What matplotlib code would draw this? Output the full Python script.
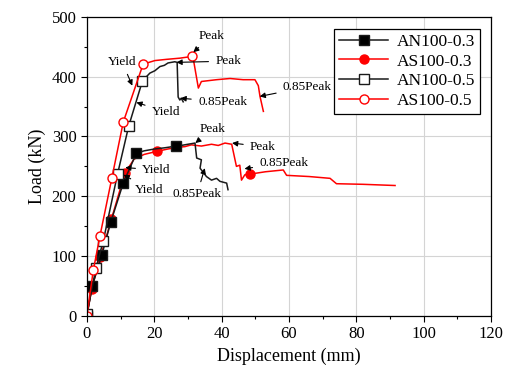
#!/usr/bin/env python3
"""Load-displacement curves for AN/AS100 specimens, saved as out.png."""

import matplotlib

matplotlib.use("Agg")
import matplotlib.pyplot as plt
from matplotlib.ticker import MultipleLocator

plt.rcParams["font.family"] = ["Liberation Serif", "DejaVu Serif"]

# AN100-0.3 (black, filled squares)
an03_x = [0, 1.6, 4.4, 7.1, 10.8, 14.7, 17, 20, 23, 26.6, 28, 30, 32.1,
          32.6, 34.0, 33.6, 35.5, 37.0, 38.5, 39.5, 41.5, 41.9]
an03_y = [0, 50, 101, 157, 222, 272, 276, 279, 281, 284, 285, 287, 289,
          264, 261, 247, 233, 227, 230, 225, 222, 211]
an03_marks = [0, 1, 2, 3, 4, 5, 9]

# AS100-0.3 (red, filled circles)
as03_x = [0, 1.4, 4.0, 7.3, 11.3, 14, 17, 20.7, 24, 27, 29.1, 31, 34, 37,
          39, 41, 43, 44.4, 45.4, 45.9, 46.9, 48.4, 53, 58.3, 59.3, 66,
          72.2, 74.1, 82, 91.5]
as03_y = [0, 45, 98, 162, 239, 262, 270, 275, 279, 282, 283, 286, 284, 287,
          285, 289, 287, 250, 252, 227, 236, 237, 241, 244, 235, 233,
          230, 221, 220, 218]
as03_marks = [0, 1, 2, 3, 4, 7, 21]

# AN100-0.5 (black, open squares)
an05_x = [0, 2.7, 4.9, 9.1, 12.4, 16.5, 18.7, 20.2, 21.7, 23.0, 24.1,
          26.1, 26.8, 27.1, 27.6, 28.0, 28.6]
an05_y = [3, 80, 126, 237, 317, 393, 406, 410, 417, 419, 423,
          425, 424, 366, 361, 364, 358]
an05_marks = [0, 1, 2, 3, 4, 5]

# AS100-0.5 (red, open circles)
as05_x = [0, 1.9, 3.9, 7.4, 10.8, 16.7, 20.2, 23.6, 27.6, 31.3, 31.5,
          33.1, 34.0, 38.5, 42.5, 46.4, 49.9, 50.9, 51.4, 52.4]
as05_y = [0, 76, 134, 230, 324, 421, 427, 429, 431, 434, 433,
          381, 392, 395, 397, 395, 395, 385, 367, 342]
as05_marks = [0, 1, 2, 3, 4, 5, 9]

# annotation labels: (text, text x, text y, arrow tip x, arrow tip y)
notes = [
    ("Peak", 37.1, 468, 31.6, 441),
    ("Peak", 42.0, 426, 26.6, 424),
    ("0.85Peak", 40.3, 358, 27.8, 364),
    ("Yield", 10.4, 425, 13.5, 385),
    ("Yield", 23.5, 341, 14.7, 357),
    ("0.85Peak", 65.5, 383, 51.3, 367),
    ("Peak", 37.4, 313, 32.2, 289),
    ("Peak", 52.3, 283, 43.1, 289),
    ("0.85Peak", 58.5, 256, 46.8, 246),
    ("0.85Peak", 32.7, 203, 35.0, 247),
    ("Yield", 20.7, 244, 11.4, 248),
    ("Yield", 18.6, 211, 10.9, 236),
]


def main():
    fig = plt.figure(figsize=(5.11, 3.76), dpi=100)
    ax = fig.add_axes([0.170, 0.160, 0.791, 0.795])

    series = [
        (as03_x, as03_y, as03_marks, "red", "o", "red", "AS100-0.3"),
        (an03_x, an03_y, an03_marks, "#1a1a1a", "s", "black", "AN100-0.3"),
        (an05_x, an05_y, an05_marks, "#1a1a1a", "s", "white", "AN100-0.5"),
        (as05_x, as05_y, as05_marks, "red", "o", "white", "AS100-0.5"),
    ]
    handles = {}
    for xs, ys, marks, col, mk, face, name in series:
        (h,) = ax.plot(xs, ys, color=col, lw=1.1, marker=mk, markersize=6.5,
                       markerfacecolor=face, markeredgecolor=col,
                       markeredgewidth=1.0, markevery=marks, label=name)
        handles[name] = h

    for text, tx, ty, px, py in notes:
        ax.annotate(text, xy=(px, py), xytext=(tx, ty), fontsize=9.5,
                    ha="center", va="center", annotation_clip=False,
                    arrowprops=dict(arrowstyle="-|>", color="black", lw=0.8,
                                    mutation_scale=8, shrinkA=3, shrinkB=0))

    ax.set_xlim(0, 120)
    ax.set_ylim(0, 500)
    ax.xaxis.set_major_locator(MultipleLocator(20))
    ax.xaxis.set_minor_locator(MultipleLocator(10))
    ax.yaxis.set_major_locator(MultipleLocator(100))
    ax.yaxis.set_minor_locator(MultipleLocator(50))
    ax.tick_params(which="both", direction="out", labelsize=12,
                   width=0.8, top=False, right=False)
    ax.tick_params(which="major", length=4)
    ax.tick_params(which="minor", length=2.5)
    ax.grid(True, which="major", color="#d4d4d4", linewidth=0.8)
    ax.set_axisbelow(True)
    for sp in ax.spines.values():
        sp.set_linewidth(0.9)

    ax.set_xlabel("Displacement (mm)", fontsize=13)
    ax.set_ylabel("Load (kN)", fontsize=13)

    order = ["AN100-0.3", "AS100-0.3", "AN100-0.5", "AS100-0.5"]
    leg = ax.legend([handles[n] for n in order], order, loc="upper right",
                    bbox_to_anchor=(0.995, 0.99), fontsize=12.5, fancybox=False,
                    framealpha=1, edgecolor="black", handlelength=2.8,
                    borderpad=0.3, labelspacing=0.2, handletextpad=0.5)
    leg.get_frame().set_linewidth(0.9)

    fig.savefig("out.png")


if __name__ == "__main__":
    main()
